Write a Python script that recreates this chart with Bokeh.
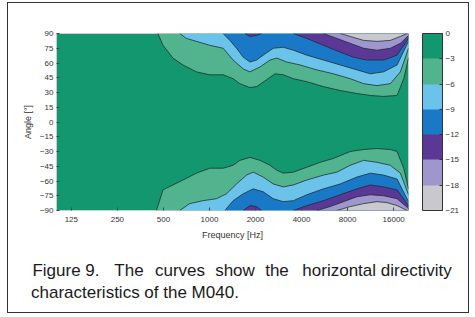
import numpy as np
from bokeh.plotting import figure
from bokeh.models import (FixedTicker, PrintfTickFormatter, ColorBar, LinearColorMapper,
                          Title, Range1d, AllLabels, LinearAxis, LinearScale)
from bokeh.embed import file_html
from bokeh.resources import INLINE

# ---------------- data ----------------
freq_ticks = [125, 250, 500, 1000, 2000, 4000, 8000, 16000]
angle_ticks = [90, 75, 60, 45, 30, 15, 0, -15, -30, -45, -60, -75, -90]
levels = [0, -3, -6, -9, -12, -15, -18, -21]
# colours of the bands from 0..-3 down to -18..-21
band_colors = ["#12976f", "#52b48e", "#6cc3ea", "#1a79c6", "#5b3796", "#9e96cd", "#c9c9cd"]

# contour lines: frequency [Hz] and angle [deg]
c3_up_f = [460, 497, 577, 671, 822, 1005, 1228, 1428, 1580, 1838, 2033, 2365, 2681, 3038, 3534, 4326, 5559, 7155, 9209, 11250, 13750, 16840, 18610, 20000]
c3_up_a = [90, 78, 65, 58, 51, 48, 48, 44, 39, 35, 36, 43, 49, 48, 44, 41, 36, 32, 29, 27, 26, 27, 44, 65]
c6_up_f = [639, 707, 822, 1005, 1228, 1428, 1661, 1838, 2138, 2487, 2751, 3200, 3910, 5031, 6466, 8321, 10171, 12450, 15220, 17700, 20000]
c6_up_a = [90, 85, 82, 78, 75, 63, 54, 51, 56, 63, 65, 61, 58, 53, 49, 44, 39, 37, 39, 51, 75]
c9_up_f = [1228, 1359, 1503, 1661, 1838, 2033, 2247, 2614, 3038, 3534, 4326, 5559, 7155, 9209, 11250, 13750, 16840, 20000]
c9_up_a = [90, 83, 75, 66, 61, 63, 68, 75, 76, 73, 68, 63, 58, 53, 49, 51, 58, 82]
c12_up_f = [1704, 1838, 2033, 2193, 3534, 4326, 5559, 7155, 8700, 10700, 13750, 16840, 20000]
c12_up_a = [90, 87, 88, 90, 90, 85, 78, 71, 66, 63, 63, 68, 85]
c15_up_f = [5559, 6808, 8321, 10171, 12450, 15220, 17700, 20000]
c15_up_a = [90, 85, 80, 75, 73, 75, 80, 88]
c18_up_f = [7155, 8321, 10171, 12450, 15220, 17700, 19590]
c18_up_a = [90, 87, 83, 82, 83, 87, 90]

c3_lo_f = [450, 497, 577, 671, 822, 1005, 1228, 1428, 1580, 1838, 2138, 2487, 2751, 3038, 3534, 4326, 5289, 6466, 8321, 10171, 12450, 15220, 16840, 18610, 20000]
c3_lo_a = [-90, -69, -64, -59, -52, -47, -47, -44, -39, -36, -39, -44, -49, -52, -51, -46, -41, -37, -30, -28, -27, -28, -30, -47, -68]
c6_lo_f = [639, 743, 908, 1111, 1292, 1503, 1748, 1932, 2247, 2614, 3038, 3534, 4326, 5559, 6808, 8321, 10171, 12450, 15220, 17700, 20000]
c6_lo_a = [-90, -83, -80, -78, -73, -63, -54, -51, -56, -63, -66, -64, -59, -54, -51, -44, -39, -41, -44, -52, -74]
c9_lo_f = [1260, 1428, 1661, 1932, 2247, 2614, 3038, 3534, 4326, 5559, 7155, 9209, 11250, 13750, 16840, 20000]
c9_lo_a = [-90, -80, -73, -68, -71, -78, -81, -80, -74, -68, -63, -56, -52, -54, -58, -81]
c12_lo_f = [1661, 1838, 2033, 2193, 3534, 4326, 5559, 7155, 9209, 11250, 13750, 16840, 20000]
c12_lo_a = [-90, -85, -86, -90, -90, -85, -80, -74, -68, -64, -66, -69, -85]
c15_lo_f = [5031, 6151, 7521, 9209, 11250, 13750, 16840, 20000]
c15_lo_a = [-90, -86, -81, -76, -74, -75, -78, -88]
c18_lo_f = [6808, 8321, 10171, 12450, 14480, 16840, 19590]
c18_lo_a = [-90, -86, -83, -81, -82, -85, -90]

caption_line1_words = ["Figure 9.", "The", "curves", "show", "the", "horizontal directivity"]
caption_line2 = "characteristics of the M040."

F_MIN, F_MAX = 100, 20000

upper = [(c3_up_f, c3_up_a), (c6_up_f, c6_up_a), (c9_up_f, c9_up_a),
         (c12_up_f, c12_up_a), (c15_up_f, c15_up_a), (c18_up_f, c18_up_a)]
lower = [(c3_lo_f, c3_lo_a), (c6_lo_f, c6_lo_a), (c9_lo_f, c9_lo_a),
         (c12_lo_f, c12_lo_a), (c15_lo_f, c15_lo_a), (c18_lo_f, c18_lo_a)]

# ---------------- figure ----------------
p = figure(width=462, height=311, x_axis_type="log",
           x_range=Range1d(F_MIN, F_MAX), y_range=Range1d(-90, 90),
           output_backend="svg", toolbar_location=None,
           min_border_left=48, min_border_right=62, min_border_top=30, min_border_bottom=104,
           styles={"margin": "2px 0px 0px 7px", "border": "1.5px solid #333333"})
p.background_fill_color = band_colors[0]
p.border_fill_color = "white"
p.grid.visible = False
p.outline_line_color = "#c8d0d0"
p.outline_line_width = 1

def line_with_breaks(fs, angs, edge):
    xs, ys = [], []
    for i, (f, a) in enumerate(zip(fs, angs)):
        if i > 0 and a == edge and angs[i - 1] == edge:
            xs.append(np.nan); ys.append(np.nan)
        xs.append(f); ys.append(a)
    return xs, ys

for k, (fs, angs) in enumerate(upper):
    p.patch(list(fs) + [F_MAX], list(angs) + [90], fill_color=band_colors[k + 1], line_color=None)
for k, (fs, angs) in enumerate(lower):
    p.patch(list(fs) + [F_MAX], list(angs) + [-90], fill_color=band_colors[k + 1], line_color=None)
for fs, angs in upper:
    xs, ys = line_with_breaks(fs, angs, 90)
    p.line(xs, ys, line_color="#1d2b2b", line_width=0.9, line_alpha=0.85)
for fs, angs in lower:
    xs, ys = line_with_breaks(fs, angs, -90)
    p.line(xs, ys, line_color="#1d2b2b", line_width=0.9, line_alpha=0.85)

# axes
p.xaxis.ticker = FixedTicker(ticks=freq_ticks)
p.xaxis.formatter = PrintfTickFormatter(format="%d")
p.yaxis.ticker = FixedTicker(ticks=angle_ticks)
p.xaxis.axis_label = "Frequency [Hz]"
p.yaxis.axis_label = "Angle [°]"
for ax in (p.xaxis, p.yaxis):
    ax.axis_line_color = None
    ax.major_tick_in = 3
    ax.major_tick_out = 0
    ax.major_tick_line_color = "#444444"
    ax.minor_tick_line_color = None
    ax.major_label_text_font = "Liberation Sans"
    ax.major_label_text_font_size = "8px"
    ax.major_label_text_color = "#333333"
    ax.axis_label_text_font = "Liberation Sans"
    ax.axis_label_text_font_size = "9px"
    ax.axis_label_text_font_style = "normal"
    ax.axis_label_text_color = "#333333"
p.xaxis.major_label_standoff = 6
p.yaxis.major_label_standoff = 3
p.xaxis.axis_label_standoff = 5
p.yaxis.axis_label_standoff = 4

# colour bar
mapper = LinearColorMapper(palette=band_colors[::-1], low=levels[-1], high=levels[0])
cb = ColorBar(color_mapper=mapper, ticker=FixedTicker(ticks=levels), width=20,
              padding=0, margin=0, location=(14, 0),
              major_label_policy=AllLabels(),
              bar_line_color="#333333", major_tick_line_color="#333333",
              major_tick_in=3, major_tick_out=0, label_standoff=3,
              major_label_text_font="Liberation Sans", major_label_text_font_size="8px",
              major_label_text_color="#333333", background_fill_color=None,
              border_line_color=None)
p.add_layout(cb, "right")

# caption: first line justified (words laid out on a text-only axis whose range is in page pixels)
word_centres_px = [66, 129, 180, 235, 277, 377]
p.extra_x_ranges = {"caption": Range1d(56.5, 408.5)}
p.extra_x_scales = {"caption": LinearScale()}
cap_axis = LinearAxis(x_range_name="caption", ticker=FixedTicker(ticks=word_centres_px),
                      major_label_overrides={c: w for c, w in zip(word_centres_px, caption_line1_words)},
                      axis_line_color=None, major_tick_line_color=None, minor_tick_line_color=None,
                      major_label_standoff=12, major_label_policy=AllLabels(),
                      major_label_text_font="Liberation Sans", major_label_text_font_size="17px",
                      major_label_text_color="#1a1a1a")
p.add_layout(cap_axis, "below")
t2 = Title(text=caption_line2, align="left", offset=-25.5, standoff=-3,
           text_font="Liberation Sans", text_font_size="17px", text_font_style="normal",
           text_color="#1a1a1a")
p.add_layout(t2, "below")

open("out.html", "w").write(file_html(p, INLINE))
